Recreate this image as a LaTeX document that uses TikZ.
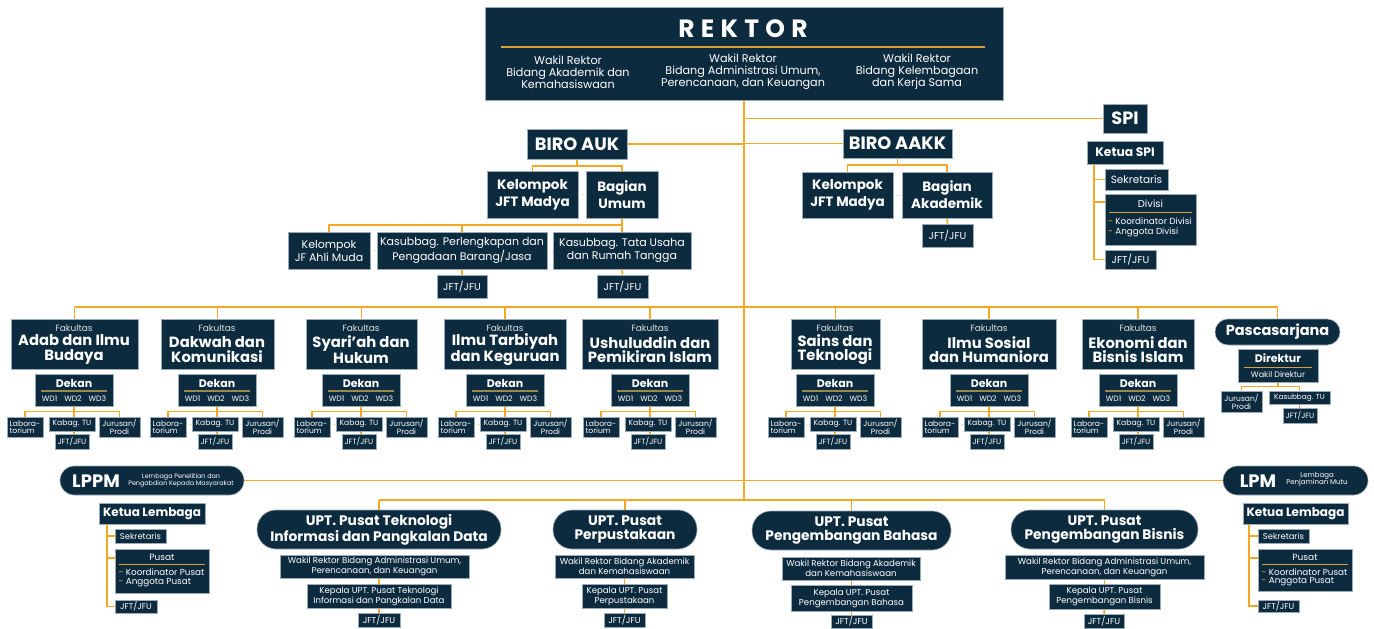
\documentclass[tikz,border=0pt]{standalone}
\usepackage{fontspec}
\setmainfont{Poppins}
\usetikzlibrary{calc}
\pgfdeclarelayer{bg}
\pgfsetlayers{bg,main}
\definecolor{navy}{HTML}{0D2B3F}
\definecolor{org}{HTML}{F7A823}
\definecolor{gold}{HTML}{D9A035}
\definecolor{dgold}{HTML}{9C8650}
\definecolor{edge}{HTML}{9AAAB6}
\definecolor{fade}{HTML}{F9D49A}
\newcommand{\fsz}[2]{\fontsize{#1}{#2}\selectfont}
\newcommand{\bx}[7][box]{\node[#1, minimum width={(#5)-(#3)}, minimum height={(#6)-(#4)}] (#2) at ({((#3)+(#5))/2},{((#4)+(#6))/2}) {#7};}
\tikzset{
 box/.style={fill=navy, draw=edge, line width=0.6pt, text=white, inner sep=0pt, align=center},
 txt/.style={text=white, inner sep=0pt, align=center},
 conn/.style={draw=org, line width=1.7pt},
 conn2/.style={draw=org, line width=1.4pt},
 dots/.style={draw=fade, line width=0.8pt, dash pattern=on 1pt off 1.5pt},
 gline/.style={draw=gold, line width=1.3pt},
 dline/.style={draw=dgold, line width=1.3pt},
 ft/.style={txt, font=\fsz{9}{10}, text=white!85!navy},
 fn/.style={txt, font=\fsz{14.8}{14.5}\bfseries},
 dk/.style={txt, font=\fsz{11}{12}\bfseries},
 wd/.style={txt, font=\fsz{7.7}{9}},
 s7/.style={box, font=\fsz{7.6}{7}},
 s7l/.style={s7, align=left},
 b10/.style={box, font=\fsz{11}{13}},
 b13/.style={box, font=\fsz{13.5}{17}\bfseries},
 big/.style={box, font=\fsz{17.8}{17}\bfseries},
 j9/.style={box, font=\fsz{10}{10}},
 j8/.style={box, font=\fsz{8.4}{10}},
 upill/.style={box, rounded corners=19pt, font=\fsz{13.8}{13.5}\bfseries},
 u8/.style={box, font=\fsz{8.6}{10}},
 bul/.style={txt, align=left, anchor=west, font=\fsz{8.8}{10}},
}
\newcommand{\fakultas}[5]{%
 \bx{#1f}{#3}{319}{#4}{369}{}
 \node[ft] (#1fl) at (#2,328.5) {Fakultas};
 \node[fn] (#1fn) at (#2,349.5) {#5};
 \bx{#1d}{#2-39}{374}{#2+39}{406}{}
 \node[dk] (#1dk) at (#2,383) {Dekan};
 \draw[dline] ({#2-33},391) -- ({#2+33},391);
 \node[wd] (#1wd) at (#2,398.5) {WD1\hspace{7pt}WD2\hspace{7pt}WD3};
 \bx[s7l]{#1l}{#2-67}{417}{#2-31}{437}{Labora-\\torium}
 \bx[s7]{#1k}{#2-25}{417}{#2+21}{431}{Kabag. TU}
 \bx[s7]{#1j}{#2+25}{417}{#2+66}{437}{Jurusan/\\Prodi}
 \bx[s7]{#1t}{#2-19}{434}{#2+15}{449}{JFT/JFU}
 \begin{pgfonlayer}{bg}
 \draw[conn] (#1f.north) -- (#1f.north |- frow);
 \draw[conn2] (#1d.south) -- ++(0,5) -| (#1l.north);
 \draw[conn2] (#1d.south) -- ++(0,5) -| (#1j.north);
 \draw[conn2] (#1d.south) -- (#1d.south |- #1t.north);
 \draw[dots] (#1l.east |- #1k.west) -- (#1k.west);
 \draw[dots] (#1k.east) -- (#1k.east -| #1j.west);
 \end{pgfonlayer}
}
\begin{document}
\begin{tikzpicture}[x=1pt,y=-1pt]
\begin{pgfonlayer}{bg}
\fill[white] (0,0) rectangle (1374,629);
\end{pgfonlayer}
\useasboundingbox (0,0) rectangle (1374,629);
\coordinate (frow) at (0,307);
\coordinate (urow) at (0,500);

% REKTOR
\bx{rektor}{485}{7}{1003}{100}{}
\node[txt, font=\fsz{25}{25}\bfseries\addfontfeature{LetterSpace=25}] (rektort) at (743,29) {REKTOR};
\draw[gline] (501,47) -- (985,47);
\node[txt, font=\fsz{11.2}{12}] (wr1) at (568,72) {Wakil Rektor\\Bidang Akademik dan\\Kemahasiswaan};
\node[txt, font=\fsz{11.2}{12}] (wr2) at (743,72) {Wakil Rektor\\Bidang Administrasi Umum,\\Perencanaan, dan Keuangan};
\node[txt, font=\fsz{11.2}{12}] (wr3) at (917,72) {Wakil Rektor\\Bidang Kelembagaan\\dan Kerja Sama};

% SPI
\bx[big]{spi}{1103}{104}{1147}{133}{SPI}
\bx[box, font=\fsz{12.3}{13}\bfseries]{kspi}{1087}{141}{1163}{164}{Ketua SPI}
\bx[box, font=\fsz{10.5}{10}]{sekspi}{1105}{169}{1168}{190}{Sekretaris}
\bx{divspi}{1105}{194}{1196}{245}{}
\node[txt, font=\fsz{10}{10}] (divt) at (1150.5,204) {Divisi};
\draw[draw=gold, line width=1pt] (1109,212) -- (1192,212);
\node[bul] (divb1) at (1108,221.5) {{\color{org}-} Koordinator Divisi};
\node[bul] (divb2) at (1108,232.5) {{\color{org}-} Anggota Divisi};
\bx[j9]{jftspi}{1105}{250}{1156}{269}{JFT/JFU}

% BIRO AUK
\bx[big]{birauk}{527}{129}{627}{159}{BIRO AUK}
\bx[b13]{kjfta}{487}{171}{578}{218}{Kelompok\\JFT Madya}
\bx[b13]{bumum}{586}{171}{658}{218}{Bagian\\Umum}
\bx[b10]{kjf}{288}{232}{370}{269}{Kelompok\\JF Ahli Muda}
\bx[b10]{kper}{377}{232}{547}{269}{Kasubbag. Perlengkapan dan\\Pengadaan Barang/Jasa}
\bx[b10]{ktu}{553}{232}{691}{269}{Kasubbag. Tata Usaha\\dan Rumah Tangga}
\bx[j9]{jfta}{437}{275}{487}{298}{JFT/JFU}
\bx[j9]{jftb}{597}{275}{648}{298}{JFT/JFU}

% BIRO AAKK
\bx[big]{birakk}{843}{129}{952}{158}{BIRO AAKK}
\bx[b13]{kjftb}{802}{172}{893}{218}{Kelompok\\JFT Madya}
\bx[b13]{bakad}{902}{172}{992}{218}{Bagian\\Akademik}
\bx[j9]{jftc}{922}{224}{973}{247}{JFT/JFU}

% Fakultas
\fakultas{a}{74}{11}{138}{Adab dan Ilmu\\Budaya}
\fakultas{b}{217}{161}{274}{Dakwah dan\\Komunikasi}
\fakultas{c}{361}{306}{417}{Syari’ah dan\\Hukum}
\fakultas{d}{505}{444}{566}{Ilmu Tarbiyah\\dan Keguruan}
\fakultas{e}{650}{582}{718}{Ushuluddin dan\\Pemikiran Islam}
\fakultas{f}{835}{791}{880}{Sains dan\\Teknologi}
\fakultas{g}{989}{922}{1056}{Ilmu Sosial\\dan Humaniora}
\fakultas{h}{1138}{1082}{1194}{Ekonomi dan\\Bisnis Islam}

% Pascasarjana
\bx[box, rounded corners=13pt, font=\fsz{14.5}{15}\bfseries]{pasca}{1215}{319}{1340}{345}{Pascasarjana}
\bx{dir}{1238}{349}{1318}{382}{}
\node[dk] (dirt) at (1278,358) {Direktur};
\draw[draw=gold, line width=1pt] (1244,367) -- (1312,367);
\node[txt, font=\fsz{8}{9}] (wdir) at (1278,374.5) {Wakil Direktur};
\bx[s7]{pjur}{1221}{391}{1262}{412}{Jurusan/\\Prodi}
\bx[box, font=\fsz{7.3}{7}]{pkas}{1269}{391}{1330}{404}{Kasubbag. TU}
\bx[s7]{pjft}{1283}{408}{1317}{423}{JFT/JFU}

% LPPM
\bx[box, rounded corners=14.5pt]{lppm}{60}{466}{244}{495}{}
\node[txt, font=\fsz{18}{18}\bfseries] (lppmt) at (96,481) {LPPM};
\node[txt, font=\fsz{6.4}{7.6}] (lppms) at (181,480.5) {Lembaga Penelitian dan\\Pengabdian Kepada Masyarakat};
\bx[box, font=\fsz{12}{14}\bfseries]{kla}{99}{503}{205}{524}{Ketua Lembaga}
\bx[j8]{seka}{115}{529}{166}{543}{Sekretaris}
\bx{pusa}{115}{549}{209}{593}{}
\node[txt, font=\fsz{9}{10}] (pusat1) at (162,557) {Pusat};
\draw[draw=gold, line width=1pt] (119,564) -- (205,564);
\node[bul] (pusa1) at (118.5,572.5) {{\color{org}-} Koordinator Pusat};
\node[bul] (pusa2) at (118.5,582.5) {{\color{org}-} Anggota Pusat};
\bx[j8]{jftl}{115}{600}{157}{613}{JFT/JFU}

% LPM
\bx[box, rounded corners=14.5pt]{lpm}{1223}{466}{1368}{495}{}
\node[txt, font=\fsz{18}{18}\bfseries] (lpmt) at (1258,481) {LPM};
\node[txt, font=\fsz{7}{7.5}] (lpms) at (1317,479.5) {Lembaga\\Penjaminan Mutu};
\bx[box, font=\fsz{12}{14}\bfseries]{klb}{1243}{503}{1348}{524}{Ketua Lembaga}
\bx[j8]{sekb}{1258}{529}{1309}{543}{Sekretaris}
\bx{pusb}{1258}{549}{1352}{591}{}
\node[txt, font=\fsz{9}{10}] (pusat2) at (1305,557) {Pusat};
\draw[draw=gold, line width=1pt] (1262,564) -- (1348,564);
\node[bul] (pusb1) at (1261.5,572) {{\color{org}-} Koordinator Pusat};
\node[bul] (pusb2) at (1261.5,582) {{\color{org}-} Anggota Pusat};
\bx[j8]{jftm}{1258}{600}{1299}{612}{JFT/JFU}

% UPT
\bx[upill]{upta}{257}{510}{501}{549}{UPT. Pusat Teknologi\\Informasi dan Pangkalan Data}
\bx[u8]{uwa}{280}{555}{469}{578}{Wakil Rektor Bidang Administrasi Umum,\\Perencanaan, dan Keuangan}
\bx[u8]{uka}{307}{584}{451}{608}{Kepala UPT. Pusat Teknologi\\Informasi dan Pangkalan Data}
\bx[u8]{uja}{358}{613}{400}{627}{JFT/JFU}

\bx[upill]{uptb}{553}{510}{697}{549}{UPT. Pusat\\Perpustakaan}
\bx[u8]{uwb}{555}{555}{694}{578}{Wakil Rektor Bidang Akademik\\dan Kemahasiswaan}
\bx[u8]{ukb}{582}{584}{667}{608}{Kepala UPT. Pusat\\Perpustakaan}
\bx[u8]{ujb}{604}{613}{645}{627}{JFT/JFU}

\bx[upill]{uptc}{752}{511}{951}{550}{UPT. Pusat\\Pengembangan Bahasa}
\bx[u8]{uwc}{782}{557}{920}{580}{Wakil Rektor Bidang Akademik\\dan Kemahasiswaan}
\bx[u8]{ukc}{791}{585}{912}{611}{Kepala UPT. Pusat\\Pengembangan Bahasa}
\bx[u8]{ujc}{831}{615}{872}{628}{JFT/JFU}

\bx[upill]{uptd}{1011}{510}{1198}{549}{UPT. Pusat\\Pengembangan Bisnis}
\bx[u8]{uwd}{1005}{555}{1204}{579}{Wakil Rektor Bidang Administrasi Umum,\\Perencanaan, dan Keuangan}
\bx[u8]{ukd}{1049}{584}{1160}{609}{Kepala UPT. Pusat\\Pengembangan Bisnis}
\bx[u8]{ujd}{1084}{614}{1124}{628}{JFT/JFU}

\begin{pgfonlayer}{bg}
% trunk and main branches
\draw[conn] (rektor.south) -- (rektor.south |- urow);
\draw[conn] (rektor.south |- spi.west) -- (spi.west);
\draw[conn] (birauk.east) -- (birauk.east -| rektor.south);
\draw[conn] (rektor.south |- birakk.west) -- (birakk.west);
\draw[conn] (af.north |- frow) -- (pasca.north |- frow);
\draw[conn] (pasca.north) -- (pasca.north |- frow);
\draw[conn] (lppm.east) -- (lpm.west);
\draw[conn] (upta.north |- urow) -- (uptd.north |- urow);
\foreach \u in {upta,uptb,uptc,uptd} {\draw[conn] (\u.north) -- (\u.north |- urow);}
% BIRO AUK
\draw[conn] (birauk.south) -- ++(0,7) -| (kjfta.north);
\draw[conn] (birauk.south) -- ++(0,7) -| (bumum.north);
\draw[dots] (kjfta.east) -- (bumum.west);
\draw[conn] (bumum.south) -- ++(0,7) -| (kjf.north);
\draw[conn] (bumum.south) -- ++(0,7) -| (kper.north);
\draw[conn] (bumum.south) -- (ktu.north);
\draw[dots] (kjf.east) -- (kper.west);
\draw[dots] (kper.east) -- (ktu.west);
\draw[conn] (kper.south) -- (jfta.north);
\draw[conn] (ktu.south) -- (jftb.north);
% BIRO AAKK
\draw[conn] (birakk.south) -- ++(0,7) -| (kjftb.north);
\draw[conn] (birakk.south) -- ++(0,7) -| (bakad.north);
\draw[dots] (kjftb.east) -- (bakad.west);
\draw[conn] (bakad.south) -- (jftc.north);
% SPI
\coordinate (spiv) at (1094,164);
\draw[conn] (spiv) |- (sekspi.west);
\draw[conn] (spiv) |- ([yshift=-8pt]divspi.north west);
\draw[conn] (spiv) |- (jftspi.west);
% Pascasarjana
\draw[conn2] (dir.south) -- ++(0,4) -| (pjur.north);
\draw[conn2] (dir.south) -- ++(0,4) -| (pkas.north);
\draw[conn2] (pkas.south) -- (pkas.south |- pjft.north);
\draw[dots] (pjur.east |- pkas.west) -- (pkas.west);
% LPPM / LPM
\coordinate (lpv) at (107,524);
\draw[conn] (lpv) |- (seka.west);
\draw[conn] (lpv) |- ([yshift=-9pt]pusa.north west);
\draw[conn] (lpv) |- (jftl.west);
\coordinate (lmv) at (1249,524);
\draw[conn] (lmv) |- (sekb.west);
\draw[conn] (lmv) |- ([yshift=-9pt]pusb.north west);
\draw[conn] (lmv) |- (jftm.west);
% UPT internals
\draw[conn] (uka.north |- uwa.south) -- (uka.north);
\draw[conn] (uka.south) -- (uja.north);
\draw[conn] (ukb.north |- uwb.south) -- (ukb.north);
\draw[conn] (ukb.south) -- (ujb.north);
\draw[conn] (ukc.north |- uwc.south) -- (ukc.north);
\draw[conn] (ukc.south) -- (ujc.north);
\draw[conn] (ukd.north |- uwd.south) -- (ukd.north);
\draw[conn] (ukd.south) -- (ujd.north);
\end{pgfonlayer}
\end{tikzpicture}
\end{document}
